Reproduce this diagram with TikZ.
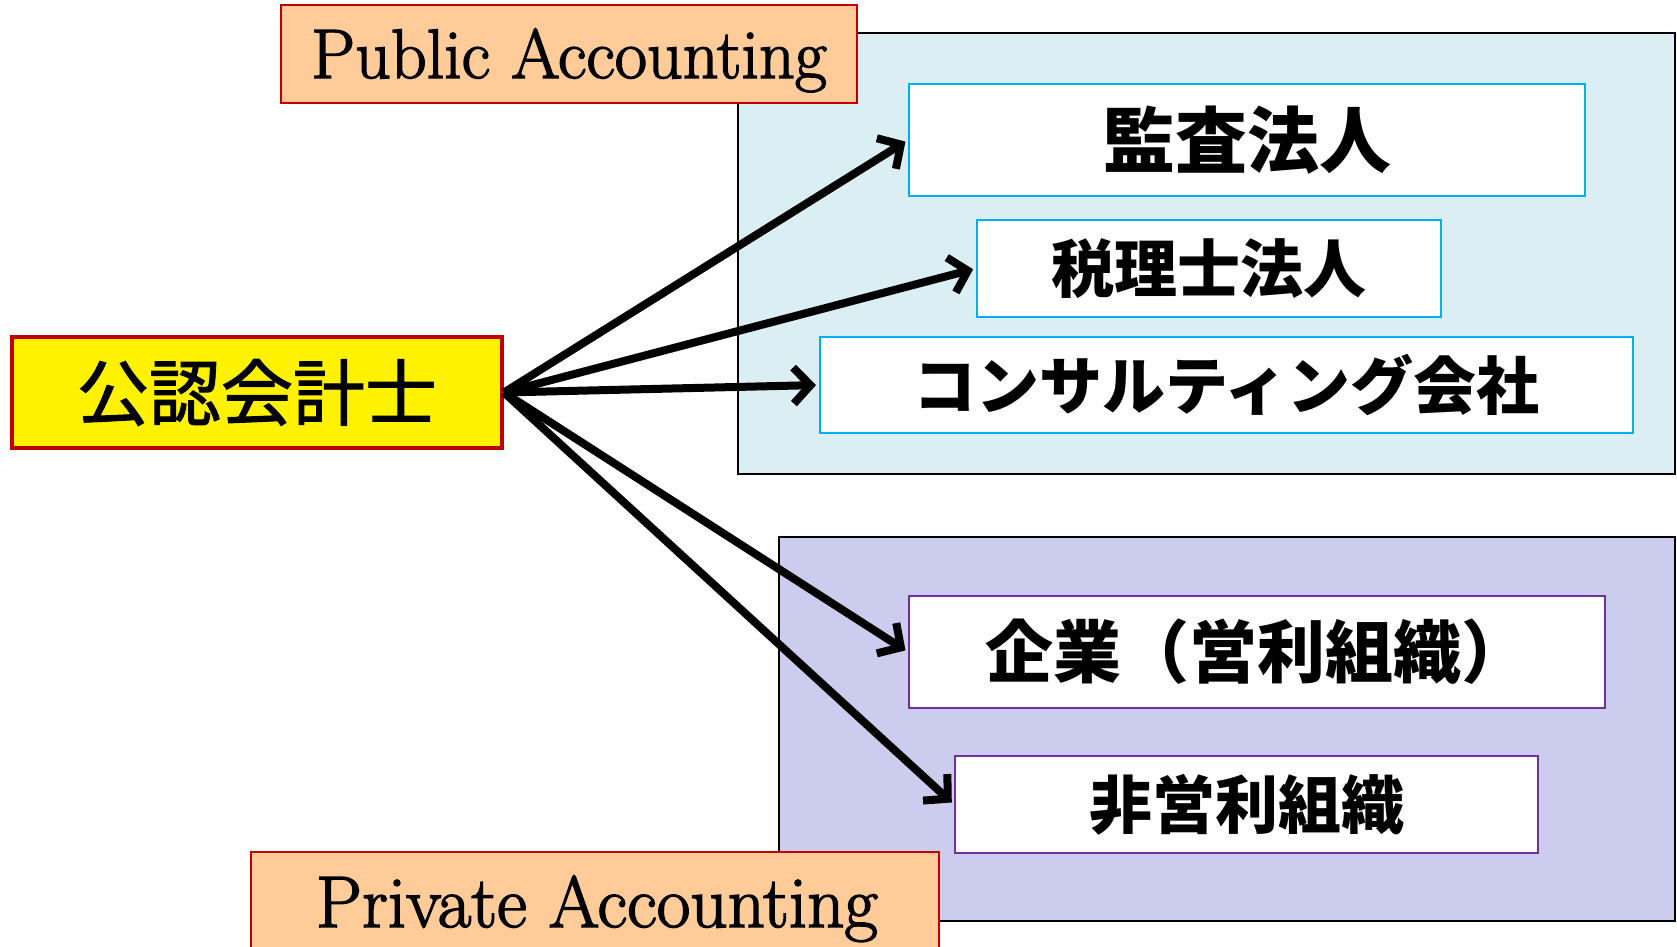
\documentclass[tikz,border=0pt]{standalone}
\usepackage{fontspec}
\newfontfamily\cjk{Noto Sans CJK JP}
\newfontfamily\cjkfb{Noto Sans CJK JP}[FakeBold=1.5]
\newfontfamily\lmbold{Latin Modern Roman}[FakeBold=2]
\usetikzlibrary{arrows.meta}
\definecolor{peach}{HTML}{FFCC99}
\definecolor{darkred}{HTML}{C00000}
\definecolor{tealfill}{HTML}{DAEEF3}
\definecolor{lavfill}{HTML}{CCCCEE}
\definecolor{cyanline}{HTML}{00B0F0}
\definecolor{purpline}{HTML}{7030A0}
\tikzset{
  region/.style={draw=black, line width=2pt, inner sep=0pt, anchor=north west},
  labelbox/.style={fill=peach, draw=darkred, line width=2pt},
  labeltext/.style={anchor=base, inner sep=0pt},
  pubbox/.style={draw=cyanline, fill=white, line width=2pt, inner sep=0pt, font=\cjk\bfseries},
  privbox/.style={draw=purpline, fill=white, line width=2pt, inner sep=0pt, font=\cjk\bfseries},
  conn/.style={draw=black, line width=8pt, -{Straight Barb[length=17pt,width=36pt]}, shorten >=3pt},
}
\begin{document}
\begin{tikzpicture}[x=1pt,y=-1pt]
\clip (0,0) rectangle (1677,946);
\fill[white] (0,0) rectangle (1677,946);
% regions
\node[region, fill=tealfill, minimum width=937pt, minimum height=441pt] (pubreg) at (737,32) {};
\node[region, fill=lavfill, minimum width=896pt, minimum height=384pt] (privreg) at (778,536) {};
% label boxes
\draw[labelbox] (281,5) rectangle (857,103);
\node[labeltext, font=\lmbold\fontsize{70}{80}\selectfont] (publabel) at (569,78) {Public Accounting};
\draw[labelbox] (251,852) rectangle (939,1000);
\node[labeltext, font=\lmbold\fontsize{73}{80}\selectfont] (privlabel) at (597,927) {Private Accounting};
% source
\node[draw=darkred, line width=4pt, fill=yellow, minimum width=490pt, minimum height=111pt, inner sep=0pt, font=\cjkfb\fontsize{72}{80}\selectfont] (cpa) at (257,392.5) {公認会計士};
% targets
\node[pubbox, minimum width=676pt, minimum height=112pt, font=\cjk\bfseries\fontsize{72}{80}\selectfont] (audit) at (1247,140) {監査法人};
\node[pubbox, minimum width=464pt, minimum height=97pt, font=\cjk\bfseries\fontsize{63}{70}\selectfont] (tax) at (1209,268.5) {税理士法人};
\node[pubbox, minimum width=813pt, minimum height=96pt, font=\cjk\bfseries\fontsize{63}{70}\selectfont] (consult) at (1226.5,385) {コンサルティング会社};
\node[privbox, minimum width=696pt, minimum height=112pt, font=\cjk\bfseries\fontsize{68}{75}\selectfont] (corp) at (1257,652) {企業（営利組織）};
\node[privbox, minimum width=583pt, minimum height=97pt, font=\cjk\bfseries\fontsize{63}{70}\selectfont] (npo) at (1246.5,804.5) {非営利組織};
% connectors
\draw[conn] (cpa.east) -- (audit.west);
\draw[conn] (cpa.east) -- (tax.west);
\draw[conn] (cpa.east) -- (consult.west);
\draw[conn] (cpa.east) -- (corp.west);
\draw[conn] (cpa.east) -- (npo.west);
\end{tikzpicture}
\end{document}
